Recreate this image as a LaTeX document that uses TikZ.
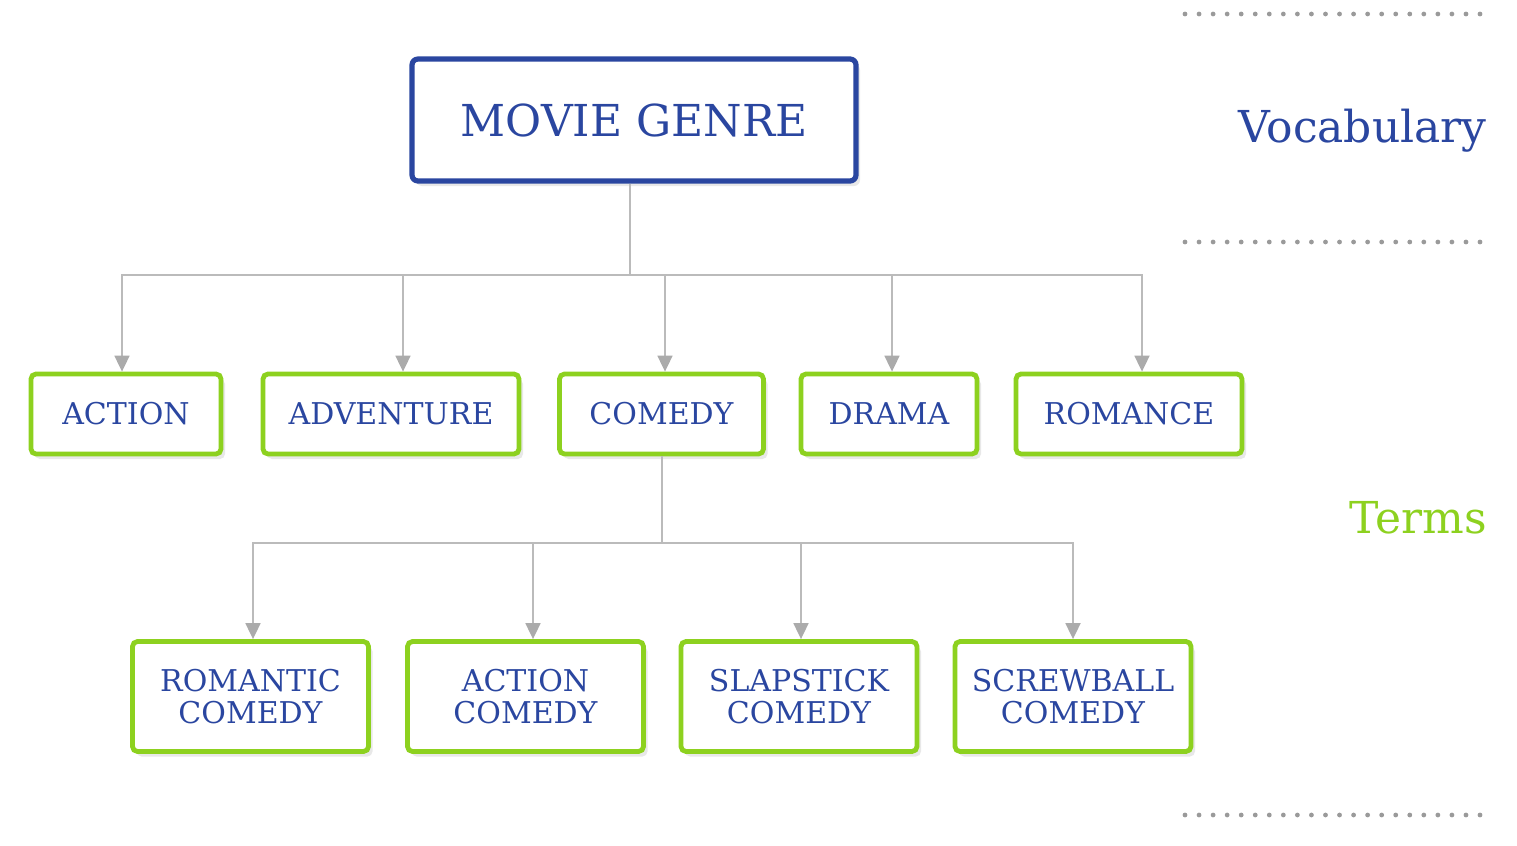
\documentclass[tikz,border=0pt]{standalone}
\usepackage{fontspec}
\setmainfont{DejaVu Serif}
\usetikzlibrary{arrows.meta,shadows}
\definecolor{mgblue}{HTML}{2A46A0}
\definecolor{tgreen}{HTML}{8DD11F}
\definecolor{conngray}{HTML}{BBBBBB}
\definecolor{arrgray}{HTML}{ABABAB}
\definecolor{dotgray}{HTML}{9A9A9A}
\tikzset{
  boxshadow/.style={drop shadow={opacity=0.18,shadow xshift=2pt,shadow yshift=-2.5pt}},
  topbox/.style={draw=mgblue,line width=2.6pt,rounded corners=3pt,fill=white,boxshadow,
    minimum width=222pt,minimum height=61pt,text=mgblue,font=\fontsize{22}{24}\selectfont},
  termbox/.style={draw=tgreen,line width=2.4pt,rounded corners=2.5pt,fill=white,boxshadow,
    minimum height=40pt,text=mgblue,align=center,font=\fontsize{15}{16}\selectfont},
  subbox/.style={termbox,minimum height=55pt,minimum width=118pt},
  conn/.style={draw=conngray,line width=0.9pt},
  connarrow/.style={conn,-{Triangle[width=7.5pt,length=8pt,color=arrgray]}},
  dotline/.style={draw=dotgray,line width=2.4pt,line cap=round,dash pattern=on 0pt off 7.024pt},
}
\begin{document}
\begin{tikzpicture}[x=0.5pt,y=-0.5pt]
\useasboundingbox (0,0) rectangle (1517,846);
% dotted separators
\coordinate (d1a) at (1185,14);  \coordinate (d1b) at (1481,14);
\coordinate (d2a) at (1185,242); \coordinate (d2b) at (1481,242);
\coordinate (d3a) at (1185,815); \coordinate (d3b) at (1481,815);
\draw[dotline] (d1a) -- (d1b);
\draw[dotline] (d2a) -- (d2b);
\draw[dotline] (d3a) -- (d3b);
\node[anchor=base east,inner sep=0pt,text=mgblue,font=\fontsize{22}{24}\selectfont] (voc) at (1487,142) {Vocabulary};
\node[anchor=base east,inner sep=0pt,text=tgreen,font=\fontsize{22}{24}\selectfont] (terms) at (1487,533) {Terms};
% buses
\coordinate (bus1) at (630,275);
\coordinate (bus2) at (662,543);
% boxes
\node[topbox] (mg) at (634,120) {MOVIE GENRE};
\node[termbox,minimum width=95pt] (action) at (126,414) {ACTION};
\node[termbox,minimum width=128pt] (adventure) at (391,414) {ADVENTURE};
\node[termbox,minimum width=102pt] (comedy) at (661.5,414) {COMEDY};
\node[termbox,minimum width=88pt] (drama) at (889,414) {DRAMA};
\node[termbox,minimum width=113pt] (romance) at (1129,414) {ROMANCE};
\node[subbox] (romcom) at (250.5,696.5) {ROMANTIC\\COMEDY};
\node[subbox] (actcom) at (525.5,696.5) {ACTION\\COMEDY};
\node[subbox] (slapcom) at (799,696.5) {SLAPSTICK\\COMEDY};
\node[subbox] (screwcom) at (1073,696.5) {SCREWBALL\\COMEDY};
% level 1 connectors
\draw[conn] (mg.south -| bus1) -- (bus1);
\draw[connarrow] (bus1) -| ([xshift=-2pt]action.north);
\draw[connarrow] (bus1) -| ([xshift=6pt]adventure.north);
\draw[connarrow] (bus1) -| ([xshift=1.75pt]comedy.north);
\draw[connarrow] (bus1) -| ([xshift=1.5pt]drama.north);
\draw[connarrow] (bus1) -| ([xshift=6.5pt]romance.north);
% level 2 connectors
\draw[conn] (comedy.south -| bus2) -- (bus2);
\draw[connarrow] (bus2) -| ([xshift=1.25pt]romcom.north);
\draw[connarrow] (bus2) -| ([xshift=3.75pt]actcom.north);
\draw[connarrow] (bus2) -| ([xshift=1pt]slapcom.north);
\draw[connarrow] (bus2) -| (screwcom.north);
\end{tikzpicture}
\end{document}
